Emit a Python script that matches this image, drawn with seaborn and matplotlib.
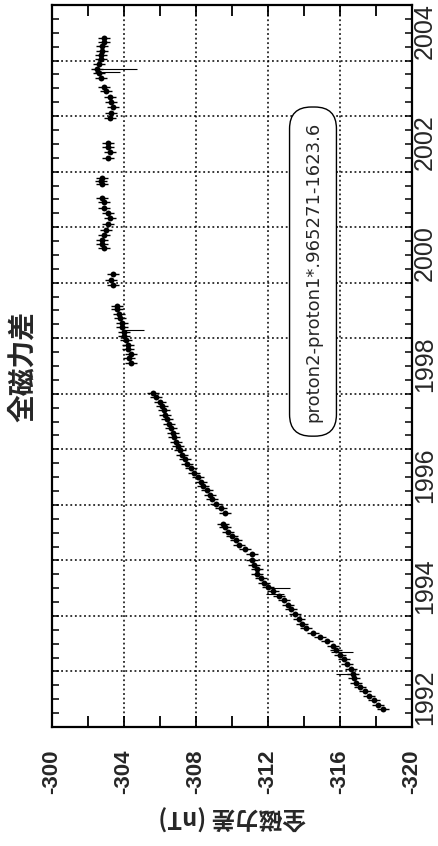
import matplotlib
matplotlib.use("Agg")
import numpy as np
import pandas as pd
import matplotlib.pyplot as plt
import seaborn as sns

# total field difference (nT); the chart is drawn turned 90 degrees
years = [1991.32, 1991.40, 1991.48, 1991.56, 1991.64, 1991.72, 1991.80, 1991.88, 1991.96,
         1992.05, 1992.13, 1992.22, 1992.30, 1992.38, 1992.46, 1992.54, 1992.62, 1992.70,
         1992.78, 1992.86, 1992.95, 1993.03, 1993.12, 1993.20, 1993.28, 1993.36, 1993.44,
         1993.52, 1993.60, 1993.68, 1993.76, 1993.84, 1993.92, 1994.00, 1994.12, 1994.20,
         1994.28, 1994.36, 1994.44, 1994.52, 1994.60, 1994.66,
         1994.86, 1994.94, 1995.02, 1995.10, 1995.18, 1995.26, 1995.34, 1995.42, 1995.50,
         1995.58, 1995.66, 1995.74, 1995.82, 1995.90, 1995.98, 1996.06, 1996.14, 1996.22,
         1996.30, 1996.38, 1996.46, 1996.54, 1996.62, 1996.70, 1996.78, 1996.86, 1996.94,
         1997.02,
         1997.56, 1997.64, 1997.72, 1997.80, 1997.88, 1997.96, 1998.04, 1998.12, 1998.20,
         1998.28, 1998.36, 1998.44, 1998.52, 1998.58,
         1998.95, 1999.05, 1999.15,
         1999.63, 1999.70, 1999.77, 1999.85, 1999.95, 2000.05, 2000.17, 2000.26, 2000.35,
         2000.45, 2000.53,
         2000.77, 2000.83, 2000.89,
         2001.25, 2001.35, 2001.45, 2001.51,
         2001.97, 2002.05, 2002.17, 2002.25, 2002.35, 2002.45, 2002.53,
         2002.69, 2002.78, 2002.85, 2002.93, 2003.02, 2003.10, 2003.18, 2003.26, 2003.34,
         2003.40]
diff = [-318.4, -318.1, -317.9, -317.6, -317.4, -317.1, -316.9, -316.8, -316.7,
        -316.6, -316.4, -316.2, -316.0, -315.8, -315.6, -315.3, -314.9, -314.5,
        -314.1, -313.9, -313.7, -313.5, -313.3, -313.1, -312.9, -312.6, -312.3,
        -312.0, -311.8, -311.6, -311.4, -311.4, -311.2, -311.1, -311.1, -310.7,
        -310.4, -310.2, -310.0, -309.8, -309.6, -309.5,
        -309.6, -309.4, -309.1, -308.9, -308.8, -308.6, -308.4, -308.3, -308.1,
        -307.9, -307.7, -307.5, -307.4, -307.2, -307.1, -307.0, -306.9, -306.8,
        -306.7, -306.6, -306.5, -306.4, -306.3, -306.2, -306.1, -306.0, -305.8,
        -305.6,
        -304.4, -304.3, -304.4, -304.2, -304.2, -304.1, -304.0, -304.0, -303.9,
        -303.9, -303.8, -303.7, -303.6, -303.6,
        -303.4, -303.3, -303.4,
        -302.9, -302.8, -302.8, -302.9, -303.0, -303.1, -303.2, -303.1, -302.9,
        -302.9, -302.8,
        -302.8, -302.7, -302.8,
        -303.1, -303.2, -303.1, -303.1,
        -303.2, -303.3, -303.4, -303.3, -303.2, -303.0, -302.9,
        -302.7, -302.6, -302.5, -302.6, -302.7, -302.7, -302.8, -302.8, -302.9,
        -302.9]

# a few long error bars seen in the chart
bar_years = [2002.85, 2002.80, 1998.15, 1993.50, 1993.40, 1992.35, 1991.95]
bar_diff = [-303.5, -303.1, -304.5, -312.6, -312.4, -316.1, -316.4]
bar_err = [1.2, 0.7, 0.6, 0.6, 0.5, 0.6, 0.6]

value_ticks = [-300, -304, -308, -312, -316, -320]
year_labels = [1992, 1994, 1996, 1998, 2000, 2002, 2004]
grid_years = list(range(1992, 2004))

df = pd.DataFrame({"year": years, "diff": diff})

sns.set_style("ticks")
plt.rcParams["font.family"] = ["Liberation Sans", "Noto Sans CJK JP", "DejaVu Sans"]
cjk = ["Noto Sans CJK JP", "DejaVu Sans"]

fig = plt.figure(figsize=(4.38, 8.46), dpi=100)
ax = fig.add_axes([52 / 438, 1 - 727 / 846, 360 / 438, 722 / 846])

sns.scatterplot(data=df, x="diff", y="year", marker="o", s=18, color="black",
                edgecolor="black", linewidth=0, ax=ax, zorder=3)
sns.scatterplot(data=df, x="diff", y="year", marker="_", s=70, color="black",
                linewidth=1.0, ax=ax, zorder=3)
ax.errorbar(bar_diff, bar_years, xerr=bar_err, fmt="none", ecolor="black",
            elinewidth=0.8, zorder=3)

ax.set_xlim(-300, -320)
ax.set_ylim(1991, 2004)
ax.set_xticks(value_ticks)
ax.set_xticklabels([str(v) for v in value_ticks], rotation=90, fontsize=16,
                   fontweight="bold")
ax.set_xticks(np.arange(-302, -320, -4), minor=True)
ax.set_yticks(grid_years)
ax.set_yticklabels([])
ax.set_yticks(np.arange(1991.25, 2004, 0.25), minor=True)
ax.set_ylabel("")
ax.tick_params(which="both", direction="in", top=True, right=True,
               left=True, bottom=True, color="black")
ax.tick_params(axis="x", which="both", length=8, width=1.3, pad=16)
ax.tick_params(axis="y", which="both", length=5, width=1.1)
ax.grid(True, which="major", color="black", linestyle=(0, (1.2, 1.8)), linewidth=1.1)
for s in ax.spines.values():
    s.set_linewidth(1.6)
    s.set_color("black")

# year labels on the right side, between the yearly grid lines
for yl in year_labels:
    ax.text(1.036, yl - 0.47, str(yl), transform=ax.get_yaxis_transform(),
            rotation=90, ha="center", va="center", fontsize=18)

ax.set_xlabel("全磁力差 (nT)", rotation=180, fontsize=17, fontweight="bold",
              family=cjk, labelpad=8)
ax.text(-0.08, 0.5, "全磁力差", transform=ax.transAxes, rotation=90,
        ha="center", va="center", fontsize=20, fontweight="bold", family=cjk)

ax.text(-314.5, 1999.2, "proton2-proton1*.965271-1623.6", rotation=90,
        ha="center", va="center", fontsize=13, family=["DejaVu Sans"],
        bbox=dict(boxstyle="round,pad=0.8,rounding_size=1.2", fc="white",
                  ec="black", lw=1.0), zorder=4)

fig.savefig("out.png", dpi=100)
